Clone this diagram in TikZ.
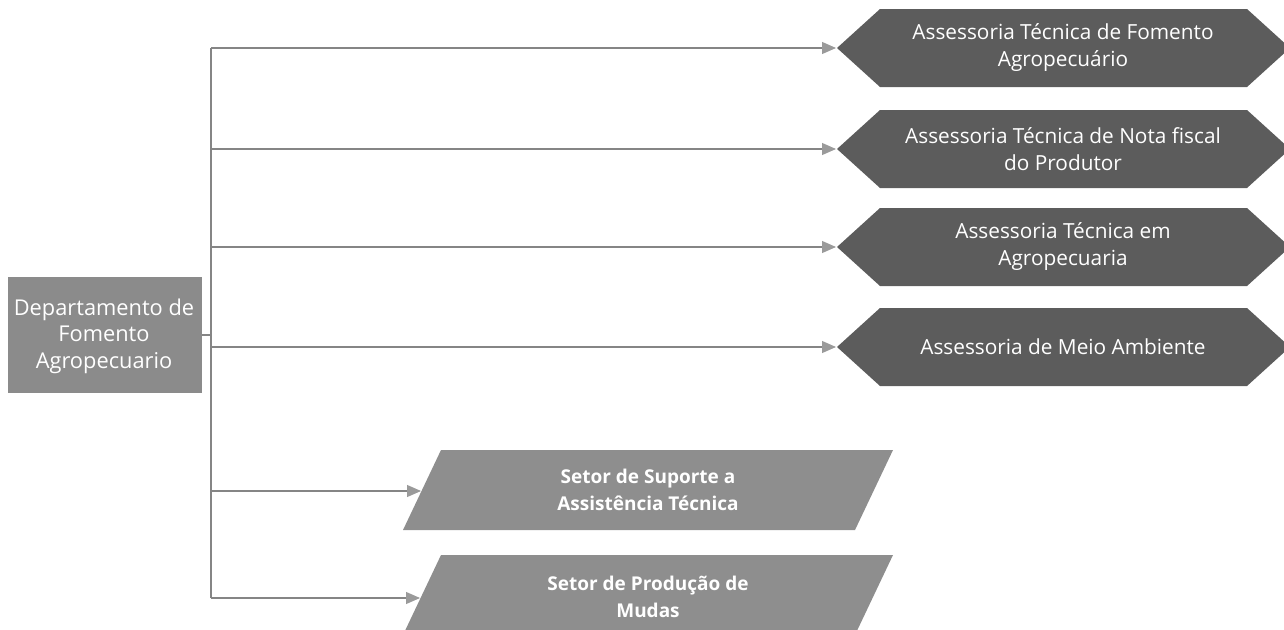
\documentclass[tikz,border=0pt]{standalone}
\usepackage{fontspec}
\setmainfont{Open Sans}
\usetikzlibrary{arrows.meta}
\definecolor{hexfill}{HTML}{5C5C5C}
\definecolor{parfill}{HTML}{8E8E8E}
\definecolor{boxfill}{HTML}{8B8B8B}
\definecolor{linecol}{HTML}{858585}
\definecolor{tipcol}{HTML}{9A9A9A}
\tikzset{
  conn/.style={draw=linecol, line width=1.1pt},
  arr/.style={conn, -{Triangle[length=14pt,width=12pt,color=tipcol,fill=tipcol]}},
  lbl/.style={text=white, align=center, font=\fontsize{20.8}{27}\selectfont, inner sep=0pt},
  dlbl/.style={text=white, align=center, font=\fontsize{21.8}{26.5}\selectfont, inner sep=0pt},
  blbl/.style={text=white, align=center, font=\bfseries\fontsize{19}{27}\selectfont, inner sep=0pt},
}
\begin{document}
\begin{tikzpicture}[x=1pt,y=-1pt]
\useasboundingbox (0,0) rectangle (1284,629);
\begin{scope}
\clip (0,0) rectangle (1284,629);
% departamento box
\fill[boxfill] (8,277) rectangle (202,393);
\node[dlbl] (dept) at (104,336) {Departamento de\\Fomento\\Agropecuario};
\coordinate (deptE) at (202,335);
% hexagons
\foreach \y/\n in {48/h1,149/h2,247/h3,347/h4}{
  \fill[hexfill] (837,\y) -- (880,\y-39) -- (1247,\y-39) -- (1290,\y) -- (1247,\y+39) -- (880,\y+39) -- cycle;
  \coordinate (\n) at (836,\y);
}
\node[lbl] (t1) at (1063,48) {Assessoria Técnica de Fomento\\Agropecuário};
\node[lbl] (t2) at (1063,149) {Assessoria Técnica de Nota fiscal\\do Produtor};
\node[lbl] (t3) at (1063,247) {Assessoria Técnica em\\Agropecuaria};
\node[lbl] (t4) at (1063,347) {Assessoria de Meio Ambiente};
% parallelograms
\foreach \y/\n in {490/p1,595/p2}{
  \fill[parfill] (403,\y+40) -- (441,\y-40) -- (893,\y-40) -- (855,\y+40) -- cycle;
}
\coordinate (p1) at (421,491);
\coordinate (p2) at (420,598);
\node[blbl] (s1) at (648,490) {Setor de Suporte a\\Assistência Técnica};
\node[blbl] (s2) at (648,597) {Setor de Produção de\\Mudas};
% spine
\coordinate (j1) at (211,48);
\coordinate (j2) at (211,149);
\coordinate (j3) at (211,247);
\coordinate (j4) at (211,347);
\coordinate (j5) at (211,491);
\coordinate (j6) at (211,598);
\coordinate (jd) at (211,335);
\draw[conn] (j1) -- (j6);
\draw[conn] (deptE) -- (jd);
\draw[arr] (j1) -- (h1);
\draw[arr] (j2) -- (h2);
\draw[arr] (j3) -- (h3);
\draw[arr] (j4) -- (h4);
\draw[arr] (j5) -- (p1);
\draw[arr] (j6) -- (p2);
\end{scope}
\end{tikzpicture}
\end{document}
